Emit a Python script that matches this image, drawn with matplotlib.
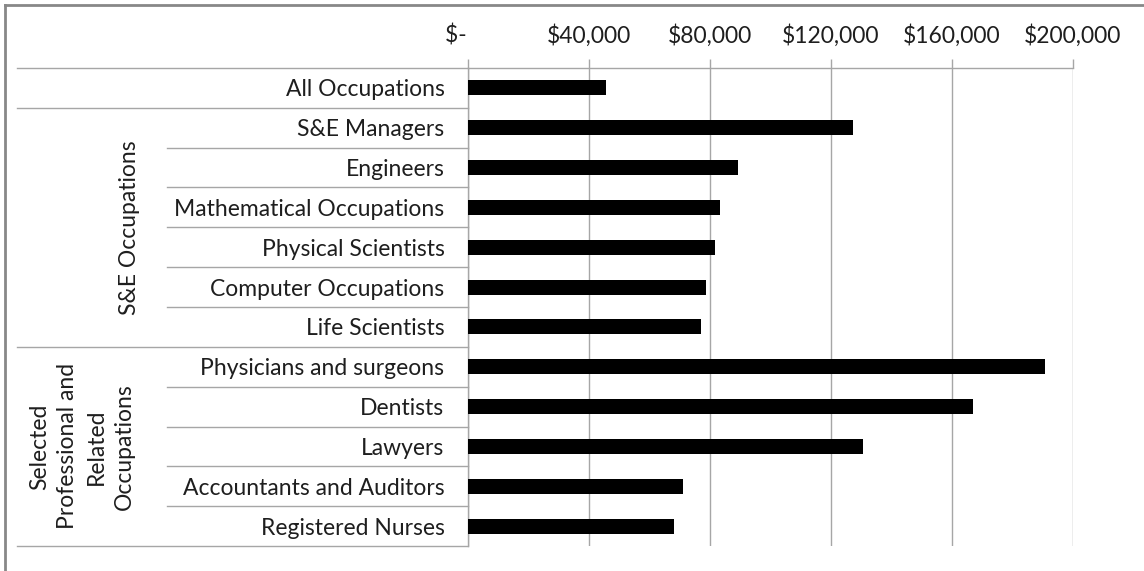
import matplotlib
matplotlib.use("Agg")
import matplotlib.pyplot as plt
from matplotlib.lines import Line2D
import matplotlib.transforms as mtransforms

plt.rcParams['font.family'] = ['Lato', 'DejaVu Sans']

categories = ["All Occupations", "S&E Managers", "Engineers", "Mathematical Occupations",
              "Physical Scientists", "Computer Occupations", "Life Scientists",
              "Physicians and surgeons", "Dentists", "Lawyers",
              "Accountants and Auditors", "Registered Nurses"]
salaries = [45700, 127400, 89300, 83400, 81700, 78800, 77100,
            190600, 167100, 130700, 71100, 68200]
group_labels = ["S&E Occupations", "Selected\nProfessional and\nRelated\nOccupations"]
group_spans = [(1, 6), (7, 11)]
tick_values = [0, 40000, 80000, 120000, 160000, 200000]
tick_labels = ["$-    ", "$40,000", "$80,000", "$120,000", "$160,000", "$200,000"]

W, H = 1144, 571
FS = 16.5
TXT = "#1e1e1e"
fig = plt.figure(figsize=(W / 100, H / 100), dpi=100)
L, R, T, B = 468, 1073, 68, 546
ax = fig.add_axes([L / W, 1 - B / H, (R - L) / W, (B - T) / H])

grey = "#a6a6a6"
ypos = list(range(len(categories)))
ax.barh(ypos, salaries, height=0.38, color="black", zorder=3)
ax.set_xlim(0, 200000)
ax.set_ylim(len(categories) - 0.5, -0.5)

ax.xaxis.tick_top()
ax.set_xticks(tick_values)
ax.set_xticklabels(tick_labels, fontsize=FS, color=TXT)
ax.tick_params(axis="x", which="major", direction="out", length=6.5, color=grey, width=1, pad=9)
ax.grid(axis="x", color=grey, linewidth=1, zorder=0)

ax.set_yticks(ypos)
ax.set_yticklabels(categories, fontsize=FS, color=TXT)
ax.tick_params(axis="y", length=0, pad=17)

for s in ["right", "bottom"]:
    ax.spines[s].set_visible(False)
for s in ["top", "left"]:
    ax.spines[s].set_color(grey)
    ax.spines[s].set_linewidth(1)

# category table lines (x in figure pixels, y in data rows)
tr = mtransforms.blended_transform_factory(
    mtransforms.Affine2D().scale(1.0 / W, 1.0) + fig.transFigure, ax.transData)
bounds_full = [-0.5, 0.5, 6.5, 11.5]
bounds_inner = [1.5, 2.5, 3.5, 4.5, 5.5, 7.5, 8.5, 9.5, 10.5]
for yb in bounds_full:
    fig.add_artist(Line2D([17, L], [yb, yb], transform=tr, color=grey, lw=1))
for yb in bounds_inner:
    fig.add_artist(Line2D([167, L], [yb, yb], transform=tr, color=grey, lw=1))

# group labels
for lab, (a, b) in zip(group_labels, group_spans):
    yc = (a + b) / 2
    xc = 129 if "\n" not in lab else 82
    fig.text(xc, yc, lab, transform=tr, rotation=90, ha="center", va="center",
             fontsize=FS, color=TXT, linespacing=1.42, multialignment="center")

# outer border
fig.add_artist(Line2D([5 / W, 1], [1 - 5 / H, 1 - 5 / H], transform=fig.transFigure,
                      color="#888888", lw=2))
fig.add_artist(Line2D([5 / W, 5 / W], [0, 1 - 5 / H], transform=fig.transFigure,
                      color="#888888", lw=2))

fig.savefig("out.png", dpi=100, facecolor="white")
